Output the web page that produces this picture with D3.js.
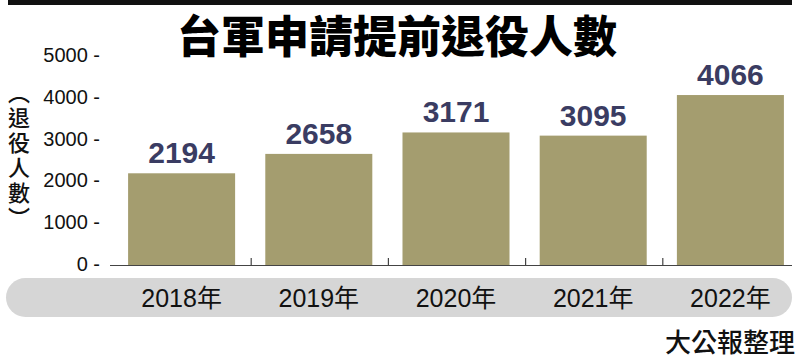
<!DOCTYPE html>
<html>
<head>
<meta charset="utf-8">
<script src="https://cdn.jsdelivr.net/npm/d3@7"></script>
<style>
  body { margin: 0; background: #fff; }
  svg { display: block; }
</style>
</head>
<body>
<div id="chart"></div>
<script>
var years = ['2018年', '2019年', '2020年', '2021年', '2022年'];
var counts = [2194, 2658, 3171, 3095, 4066];
var yTicks = [0, 1000, 2000, 3000, 4000, 5000];
var titleText = '台軍申請提前退役人數';
var yTitle = '（退役人數）';
var sourceText = '大公報整理';

var width = 800, height = 364;
var cjk = '"Noto Sans CJK TC", "Noto Sans CJK SC", sans-serif';
var latin = '"Liberation Sans", Arial, "Noto Sans CJK TC", sans-serif';

var svg = d3.select('#chart').append('svg')
    .attr('width', width)
    .attr('height', height);

// 顶部黑条
svg.append('rect')
    .attr('x', 8).attr('y', 0)
    .attr('width', 784).attr('height', 5)
    .style('fill', '#111');

// 标题
svg.append('text')
    .attr('x', 397).attr('y', 53)
    .attr('text-anchor', 'middle')
    .style('font-family', cjk)
    .style('font-weight', 900)
    .style('font-size', '44px')
    .style('fill', '#000')
    .text(titleText);

var x = d3.scaleBand()
    .domain(years)
    .range([113, 799])
    .paddingInner(0.22)
    .paddingOuter(0.11);

var y = d3.scaleLinear()
    .domain([0, 5000])
    .range([265, 56]);

// y轴刻度文字
svg.append('g').selectAll('text')
    .data(yTicks)
    .enter().append('text')
    .attr('x', 100)
    .attr('y', function(d) { return y(d) - 1; })
    .attr('dy', '0.35em')
    .attr('text-anchor', 'end')
    .style('font-family', latin)
    .style('font-size', '20px')
    .style('fill', '#111')
    .text(function(d) { return d + ' -'; });

// y轴标题（竖排）
svg.append('text')
    .attr('x', 19)
    .attr('y', 157)
    .attr('text-anchor', 'middle')
    .style('writing-mode', 'vertical-rl')
    .style('font-family', cjk)
    .style('font-weight', 500)
    .style('font-size', '22px')
    .style('letter-spacing', '3px')
    .style('fill', '#111')
    .text(yTitle);

// 柱子
svg.append('g').selectAll('rect')
    .data(counts)
    .enter().append('rect')
    .attr('x', function(d, i) { return x(years[i]); })
    .attr('y', function(d) { return y(d); })
    .attr('width', x.bandwidth())
    .attr('height', function(d) { return y(0) - y(d); })
    .style('fill', '#a49d6f');

// 数值
svg.append('g').selectAll('text')
    .data(counts)
    .enter().append('text')
    .attr('x', function(d, i) { return x(years[i]) + x.bandwidth() / 2; })
    .attr('y', function(d) { return y(d) - 10; })
    .attr('text-anchor', 'middle')
    .style('font-family', latin)
    .style('font-weight', 'bold')
    .style('font-size', '30px')
    .style('fill', '#3a3c62')
    .text(function(d) { return d; });

// 基线与分隔刻度
svg.append('line')
    .attr('x1', 110).attr('x2', 792)
    .attr('y1', 265.5).attr('y2', 265.5)
    .style('stroke', '#444')
    .style('stroke-width', 1.2);

svg.append('g').selectAll('line')
    .data(years.slice(1))
    .enter().append('line')
    .attr('x1', function(d) { return x(d) - x.step() * x.paddingInner() / 2 + 1; })
    .attr('x2', function(d) { return x(d) - x.step() * x.paddingInner() / 2 + 1; })
    .attr('y1', 258).attr('y2', 265.5)
    .style('stroke', '#444')
    .style('stroke-width', 1.2);

// 底部灰色圆角条
svg.append('rect')
    .attr('x', 6).attr('y', 278)
    .attr('width', 786).attr('height', 39)
    .attr('rx', 19.5).attr('ry', 19.5)
    .style('fill', '#d6d6d6');

svg.append('g').selectAll('text')
    .data(years)
    .enter().append('text')
    .attr('x', function(d) { return x(d) + x.bandwidth() / 2; })
    .attr('y', 298)
    .attr('dy', '0.35em')
    .attr('text-anchor', 'middle')
    .style('font-family', latin)
    .style('font-size', '25px')
    .style('fill', '#111')
    .text(function(d) { return d; });

// 来源
svg.append('text')
    .attr('x', 795).attr('y', 342)
    .attr('dy', '0.38em')
    .attr('text-anchor', 'end')
    .style('font-family', cjk)
    .style('font-weight', 500)
    .style('font-size', '26px')
    .style('fill', '#111')
    .text(sourceText);
</script>
</body>
</html>
